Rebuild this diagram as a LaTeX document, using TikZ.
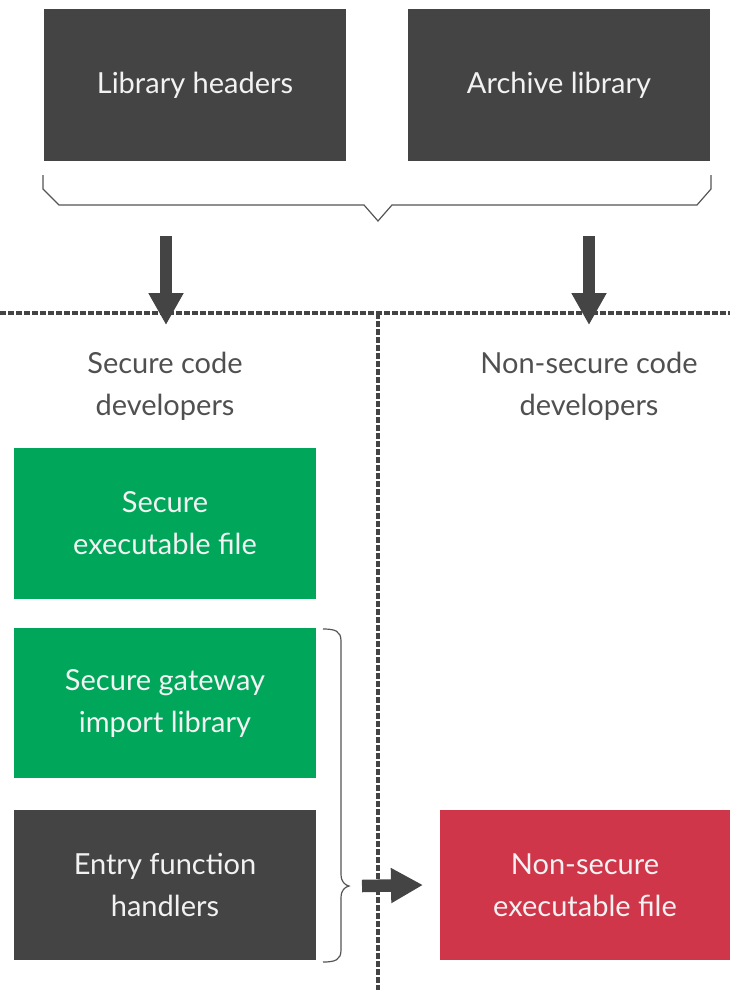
\documentclass[tikz,border=0pt]{standalone}
\usepackage{fontspec}
\setmainfont{Lato}
\usetikzlibrary{arrows.meta}
\definecolor{darkbox}{HTML}{444444}
\definecolor{greenbox}{HTML}{00A65A}
\definecolor{redbox}{HTML}{D0364A}
\definecolor{labelgrey}{HTML}{505050}
\definecolor{bracegrey}{HTML}{555555}
\definecolor{boxtext}{HTML}{F2F2F2}
\tikzset{
  box/.style={rectangle, minimum width=302pt, minimum height=151pt, inner sep=0pt,
    text=boxtext, align=center, font=\fontsize{29}{42}\selectfont},
  darkbox/.style={box, fill=darkbox},
  greenbox/.style={box, fill=greenbox},
  redbox/.style={box, fill=redbox, minimum width=291pt},
  rolelabel/.style={text=labelgrey, align=center, font=\fontsize{29}{42}\selectfont},
  divider/.style={draw=darkbox, line width=3.5pt, dash pattern=on 5.5pt off 2.5pt},
  bracket/.style={draw=bracegrey, line width=1.2pt},
  bigarrow/.style={draw=darkbox, line width=12.5pt,
    -{Triangle[length=32pt, width=33pt]}}
}
\begin{document}
\begin{tikzpicture}[x=1pt, y=-1pt]
  \useasboundingbox (0,0) rectangle (730,990);

  % library inputs
  \node[darkbox] (headers) at (195,85) {Library headers};
  \node[darkbox] (archive) at (559,85) {Archive library};

  % bracket joining both inputs
  \draw[bracket] (43,175) -- (43,189) -- (59,205) -- (364,205) -- (378,221)
    -- (392,205) -- (697,205) -- (711,189) -- (711,175);

  % dividers between the two developer groups
  \coordinate (hl) at (0,313);
  \coordinate (hr) at (730,313);
  \coordinate (vt) at (378,313);
  \coordinate (vb) at (378,990);
  \draw[divider] (hl) -- (hr);
  \draw[divider] (vt) -- (vb);

  % delivery arrows
  \coordinate (a1s) at (166,236);
  \coordinate (a1e) at (166,325);
  \coordinate (a2s) at (589,236);
  \coordinate (a2e) at (589,325);
  \draw[bigarrow] (a1s) -- (a1e);
  \draw[bigarrow] (a2s) -- (a2e);

  % developer groups
  \node[rolelabel] (secdev) at (165,386) {Secure code\\developers};
  \node[rolelabel] (nsdev) at (589,386) {Non-secure code\\developers};

  % secure side outputs
  \node[greenbox] (secexe) at (165,523) {Secure\\executable file};
  \node[greenbox, minimum height=150pt] (gateway) at (165,703) {Secure gateway\\import library};
  \node[darkbox, minimum height=150pt] (entry) at (165,885) {Entry function\\handlers};

  % non-secure output
  \node[redbox, minimum height=150pt] (nsexe) at (585,885) {Non-secure\\executable file};

  % curly bracket around gateway and handlers
  \draw[bracket] (323,629) .. controls (335,629) and (341,631) .. (341,641)
    -- (341,874) .. controls (341,882) and (345,885) .. (349,886)
    .. controls (345,887) and (341,890) .. (341,898)
    -- (341,950) .. controls (341,960) and (335,962) .. (323,962);

  % hand-over arrow
  \coordinate (a3s) at (362,886);
  \draw[bigarrow] (a3s) -- (nsexe.west -| 423,0);
\end{tikzpicture}
\end{document}
